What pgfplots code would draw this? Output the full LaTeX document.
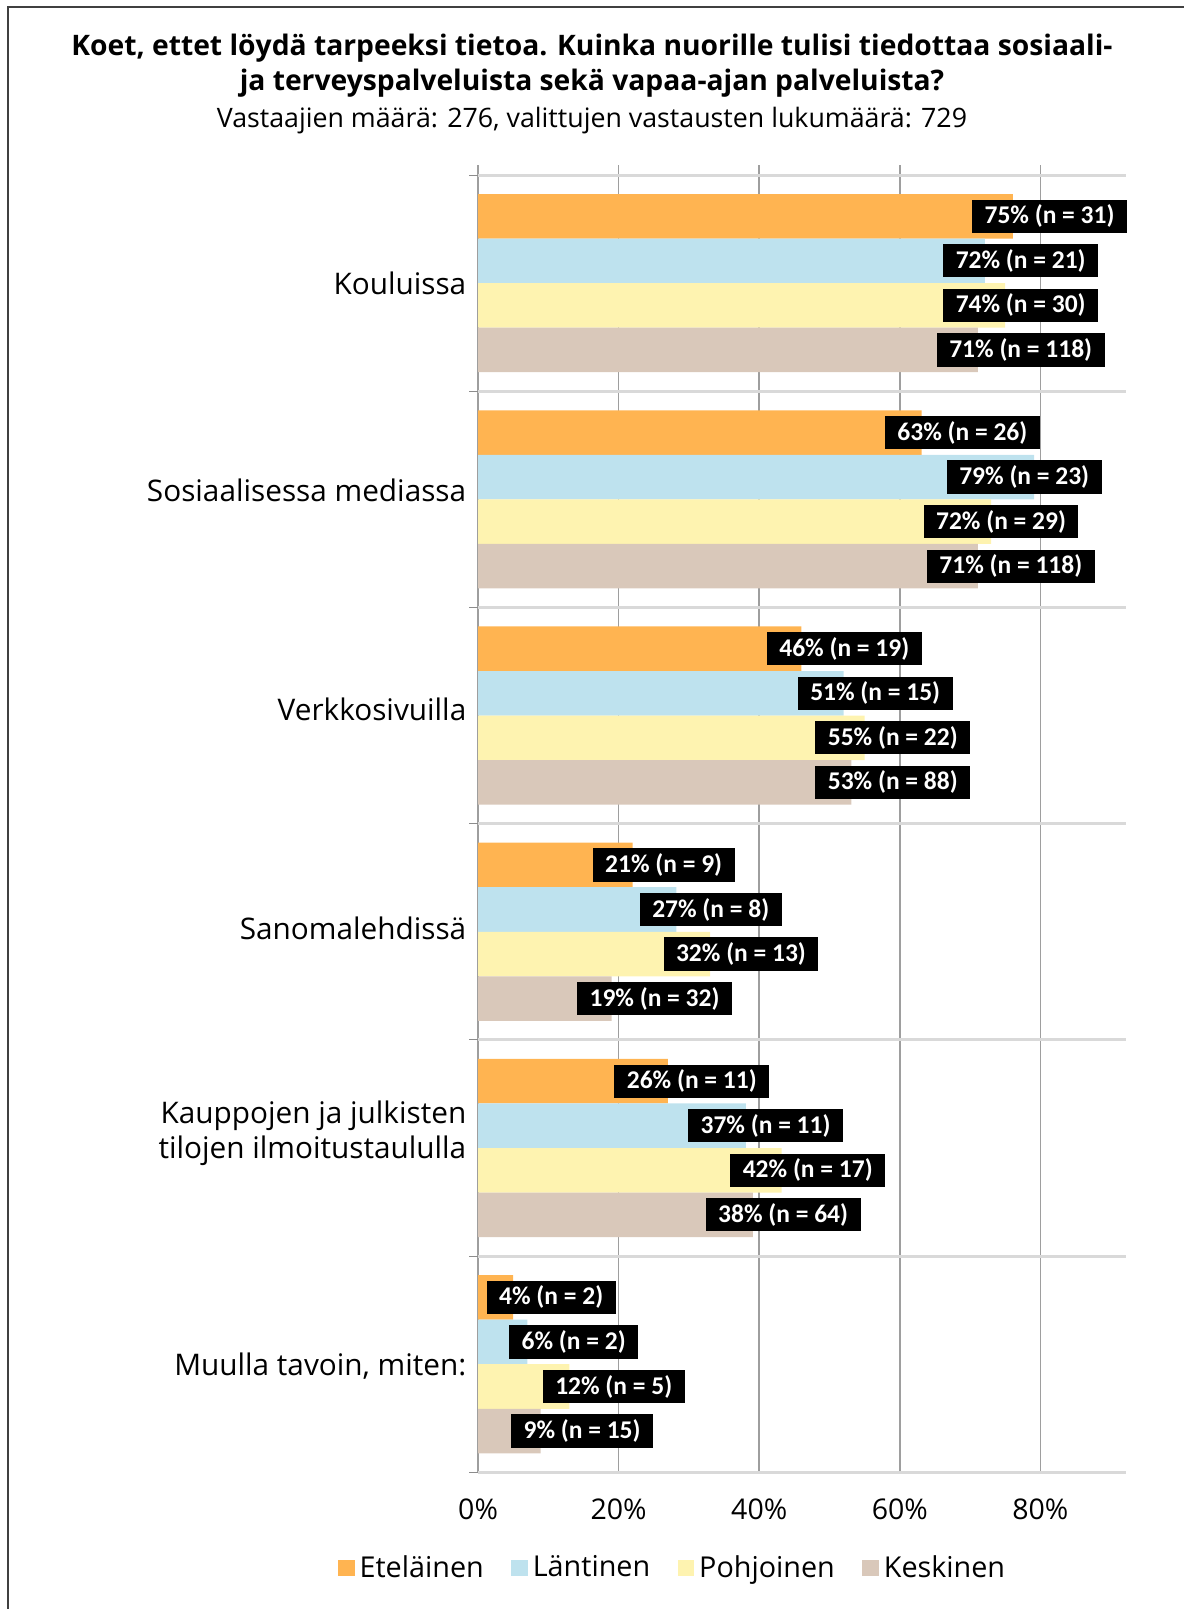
\documentclass[border=0pt]{standalone}
\usepackage{pgfplots}
\usepackage{pgfplotstable}
\pgfplotsset{compat=1.18}
\usepackage{fontspec}
\setmainfont{Open Sans}
\newfontfamily\labfont{Carlito}
\definecolor{cEt}{HTML}{FFB451}
\definecolor{cLa}{HTML}{BEE2EE}
\definecolor{cPo}{HTML}{FEF3B0}
\definecolor{cKe}{HTML}{D9C8BA}
\pgfplotsset{
  sq legend/.style={legend image code/.code={\fill[##1, draw=none] (0pt,-3.3pt) rectangle (6.6pt,3.3pt);}},
  barstyle/.style={xbar, bar width=0.206, bar shift=0pt, draw=none, forget plot},
  labstyle/.style={only marks, mark=*, mark size=0pt, mark options={draw=none,fill=none}, forget plot,
    visualization depends on={\thisrow{p} \as \pp},
    visualization depends on={\thisrow{n} \as \nn},
    nodes near coords={\pgfmathprintnumber[fixed,precision=0]{\pp}\% (n = \pgfmathprintnumber[fixed,precision=0]{\nn})},
    nodes near coords align=center,
    every node near coord/.style={anchor=center, fill=black, text=white,
      font=\labfont\bfseries\fontsize{10.2}{12}\selectfont, inner xsep=5pt, inner ysep=0pt,
      minimum height=13.3pt, /pgf/number format/assume math mode=true}},
}
% c = category index (0 = Kouluissa), v = bar value, lx = label centre, p = shown percent, n = count
\pgfplotstableread{
c v lx p n
0 76.1 81.3 75 31
1 63.1 68.9 63 26
2 46.0 52.1 46 19
3 22.0 26.4 21 9
4 27.0 30.4 26 11
5 5.0 10.4 4 2
}\tEt
\pgfplotstableread{
c v lx p n
0 72.1 77.2 72 21
1 79.1 77.7 79 23
2 52.0 56.5 51 15
3 28.2 33.1 27 8
4 38.1 40.9 37 11
5 7.0 13.6 6 2
}\tLa
\pgfplotstableread{
c v lx p n
0 75.0 77.2 74 30
1 73.0 74.4 72 29
2 55.0 59.0 55 22
3 33.0 37.4 32 13
4 43.2 46.9 42 17
5 13.0 19.3 12 5
}\tPo
\pgfplotstableread{
c v lx p n
0 71.1 77.2 71 118
1 71.1 75.8 71 118
2 53.1 59.0 53 88
3 19.0 25.1 19 32
4 39.1 43.4 38 64
5 8.9 14.8 9 15
}\tKe
\begin{document}
\begin{tikzpicture}
\useasboundingbox (0,0) rectangle (473.6pt,-643.6pt);
\draw[black!75, line width=0.6pt] (3.2pt,-643.6pt) -- (3.2pt,-2.8pt) -- (473.6pt,-2.8pt);
\node[font=\fontsize{11.3}{13}\selectfont\bfseries] at (236.8pt,-19.3pt) {Koet, ettet löydä tarpeeksi tietoa. Kuinka nuorille tulisi tiedottaa sosiaali-};
\node[font=\fontsize{11.3}{13}\selectfont\bfseries] at (236.8pt,-33.2pt) {ja terveyspalveluista sekä vapaa-ajan palveluista?};
\node[font=\fontsize{10.7}{13}\selectfont] at (236.8pt,-48.4pt) {Vastaajien määrä: 276, valittujen vastausten lukumäärä: 729};
\begin{axis}[
  at={(191.24pt,-588.92pt)}, anchor=south west,
  scale only axis, width=259.36pt, height=522.9pt,
  xmin=0, xmax=92.25, ymin=-0.546, ymax=5.5, y dir=reverse,
  clip=false,
  axis line style={draw=none},
  xtick={0,20,40,60,80}, xticklabels={0\%,20\%,40\%,60\%,80\%},
  xticklabel style={anchor=center, yshift=-14.7pt, font=\fontsize{11.4}{13}\selectfont},
  xmajorgrids, major grid style={draw=black!38, line width=0.6pt},
  ytick={0.002,0.960,1.969,2.983,3.931,5.011},
  yticklabels={Kouluissa, Sosiaalisessa mediassa, Verkkosivuilla, Sanomalehdissä, {Kauppojen ja julkisten\\tilojen ilmoitustaululla}, {Muulla tavoin, miten:}},
  yticklabel style={align=right, font=\fontsize{11.9}{14}\selectfont, xshift=-1.2pt},
  minor ytick={-0.5,0.5,1.5,2.5,3.5,4.5,5.5}, yminorgrids,
  minor grid style={draw=black!15, line width=1.2pt},
  major tick length=0pt, minor tick length=3.6pt, tick align=outside, tick pos=left,
  minor tick style={draw=black!45, line width=0.4pt},
  legend style={draw=none, fill=none, at={(0.3023,-0.0732)}, anchor=center,
    font=\fontsize{11.5}{13}\selectfont, /tikz/every even column/.append style={column sep=9pt},
    /tikz/every odd column/.append style={column sep=0pt}},
  legend columns=4, legend cell align=left,
]
\addplot[barstyle, fill=cEt] table[x=v, y expr=\thisrow{c}-0.309] {\tEt};
\addplot[barstyle, fill=cLa] table[x=v, y expr=\thisrow{c}-0.103] {\tLa};
\addplot[barstyle, fill=cPo] table[x=v, y expr=\thisrow{c}+0.103] {\tPo};
\addplot[barstyle, fill=cKe] table[x=v, y expr=\thisrow{c}+0.309] {\tKe};
\addplot[labstyle] table[x=lx, y expr=\thisrow{c}-0.309] {\tEt};
\addplot[labstyle] table[x=lx, y expr=\thisrow{c}-0.103] {\tLa};
\addplot[labstyle] table[x=lx, y expr=\thisrow{c}+0.103] {\tPo};
\addplot[labstyle] table[x=lx, y expr=\thisrow{c}+0.309] {\tKe};
\addlegendimage{sq legend, fill=cEt}\addlegendentry{Eteläinen}
\addlegendimage{sq legend, fill=cLa}\addlegendentry{Läntinen}
\addlegendimage{sq legend, fill=cPo}\addlegendentry{Pohjoinen}
\addlegendimage{sq legend, fill=cKe}\addlegendentry{Keskinen}
\end{axis}
\end{tikzpicture}
\end{document}
